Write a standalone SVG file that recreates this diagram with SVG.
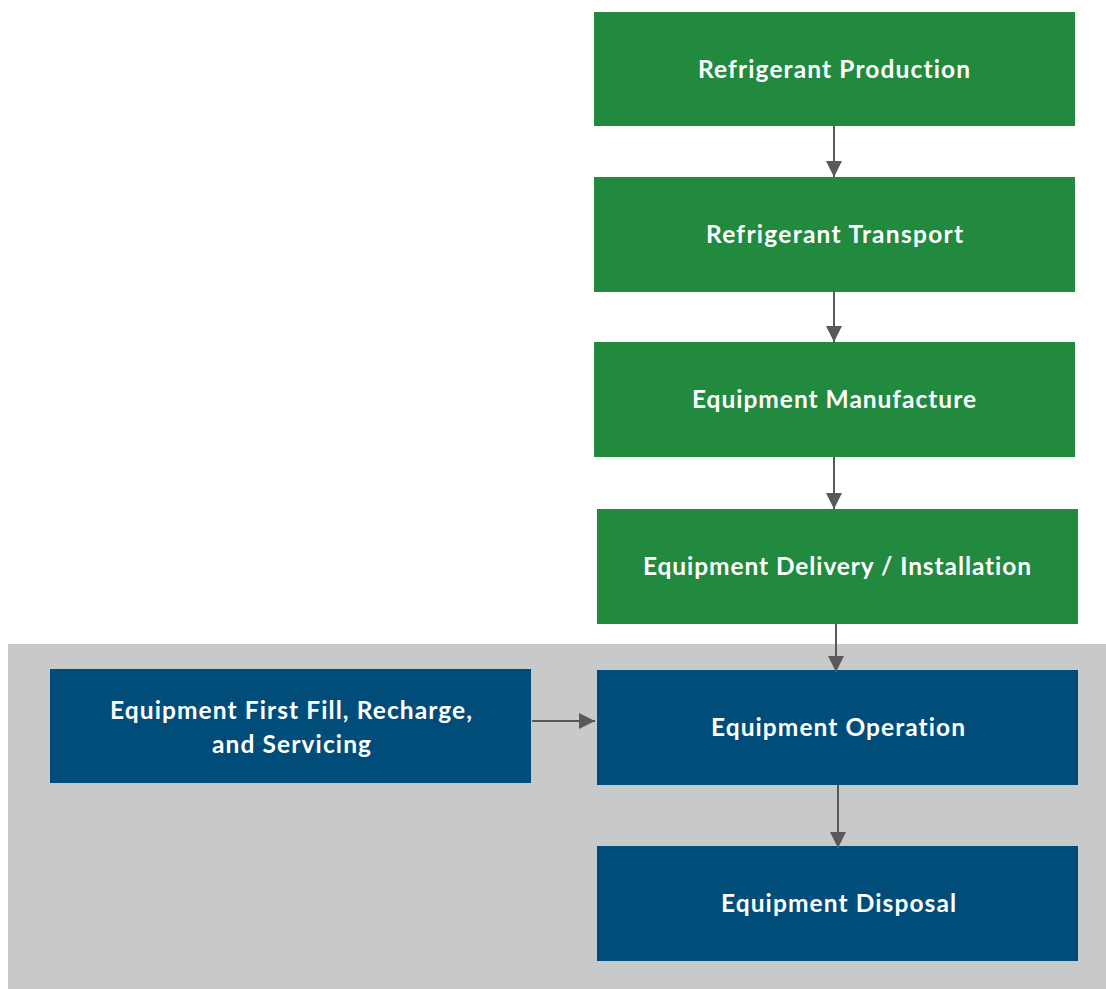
<svg xmlns="http://www.w3.org/2000/svg" width="1106" height="989" viewBox="0 0 1106 989">
<style>
.g{fill:#218a3f}
.b{fill:#004d7a}
.t{fill:#ffffff;font-family:Lato,"Liberation Sans",sans-serif;font-weight:bold;font-size:24.5px;text-anchor:middle;font-variant-ligatures:none}
.c{stroke:#595959;stroke-width:2;fill:none}
</style>
<defs>
<marker id="ah" markerWidth="16" markerHeight="16" viewBox="0 0 16 16" refX="16" refY="8" orient="auto" markerUnits="userSpaceOnUse">
<path d="M0,0 L16,8 L0,16 Z" fill="#595959"/>
</marker>
</defs>
<rect x="0" y="0" width="1106" height="989" fill="#ffffff"/>
<rect id="scope" x="8" y="644" width="1098" height="345" fill="#c8c9cb"/>
<g id="n1"><rect class="g" x="594" y="12" width="481" height="114"/><text class="t" x="834" y="77.5" textLength="272" lengthAdjust="spacing">Refrigerant Production</text></g>
<g id="n2"><rect class="g" x="594" y="177" width="481" height="115"/><text class="t" x="834.5" y="243" textLength="257" lengthAdjust="spacing">Refrigerant Transport</text></g>
<g id="n3"><rect class="g" x="594" y="342" width="481" height="115"/><text class="t" x="834" y="408" textLength="284" lengthAdjust="spacing">Equipment Manufacture</text></g>
<g id="n4"><rect class="g" x="597" y="509" width="481" height="115"/><text class="t" x="837" y="574.5" textLength="388" lengthAdjust="spacing">Equipment Delivery / Installation</text></g>
<g id="n5"><rect class="b" x="597" y="670" width="481" height="115"/><text class="t" x="838" y="736" textLength="254" lengthAdjust="spacing">Equipment Operation</text></g>
<g id="n6"><rect class="b" x="597" y="846" width="481" height="115"/><text class="t" x="838.5" y="912" textLength="235" lengthAdjust="spacing">Equipment Disposal</text></g>
<g id="n7"><rect class="b" x="50" y="669" width="481" height="114"/><text class="t" x="291" y="719" textLength="362" lengthAdjust="spacing">Equipment First Fill, Recharge,</text><text class="t" x="291.5" y="752.5" textLength="159" lengthAdjust="spacing">and Servicing</text></g>
<g id="connectors">
<line class="c" x1="834" y1="126" x2="834" y2="177" marker-end="url(#ah)"/>
<line class="c" x1="834" y1="292" x2="834" y2="342" marker-end="url(#ah)"/>
<line class="c" x1="834" y1="457" x2="834" y2="509" marker-end="url(#ah)"/>
<line class="c" x1="836" y1="624" x2="836" y2="672" marker-end="url(#ah)"/>
<line class="c" x1="838" y1="785" x2="838" y2="848" marker-end="url(#ah)"/>
<line class="c" x1="532" y1="721" x2="595" y2="721" marker-end="url(#ah)"/>
</g>
</svg>
